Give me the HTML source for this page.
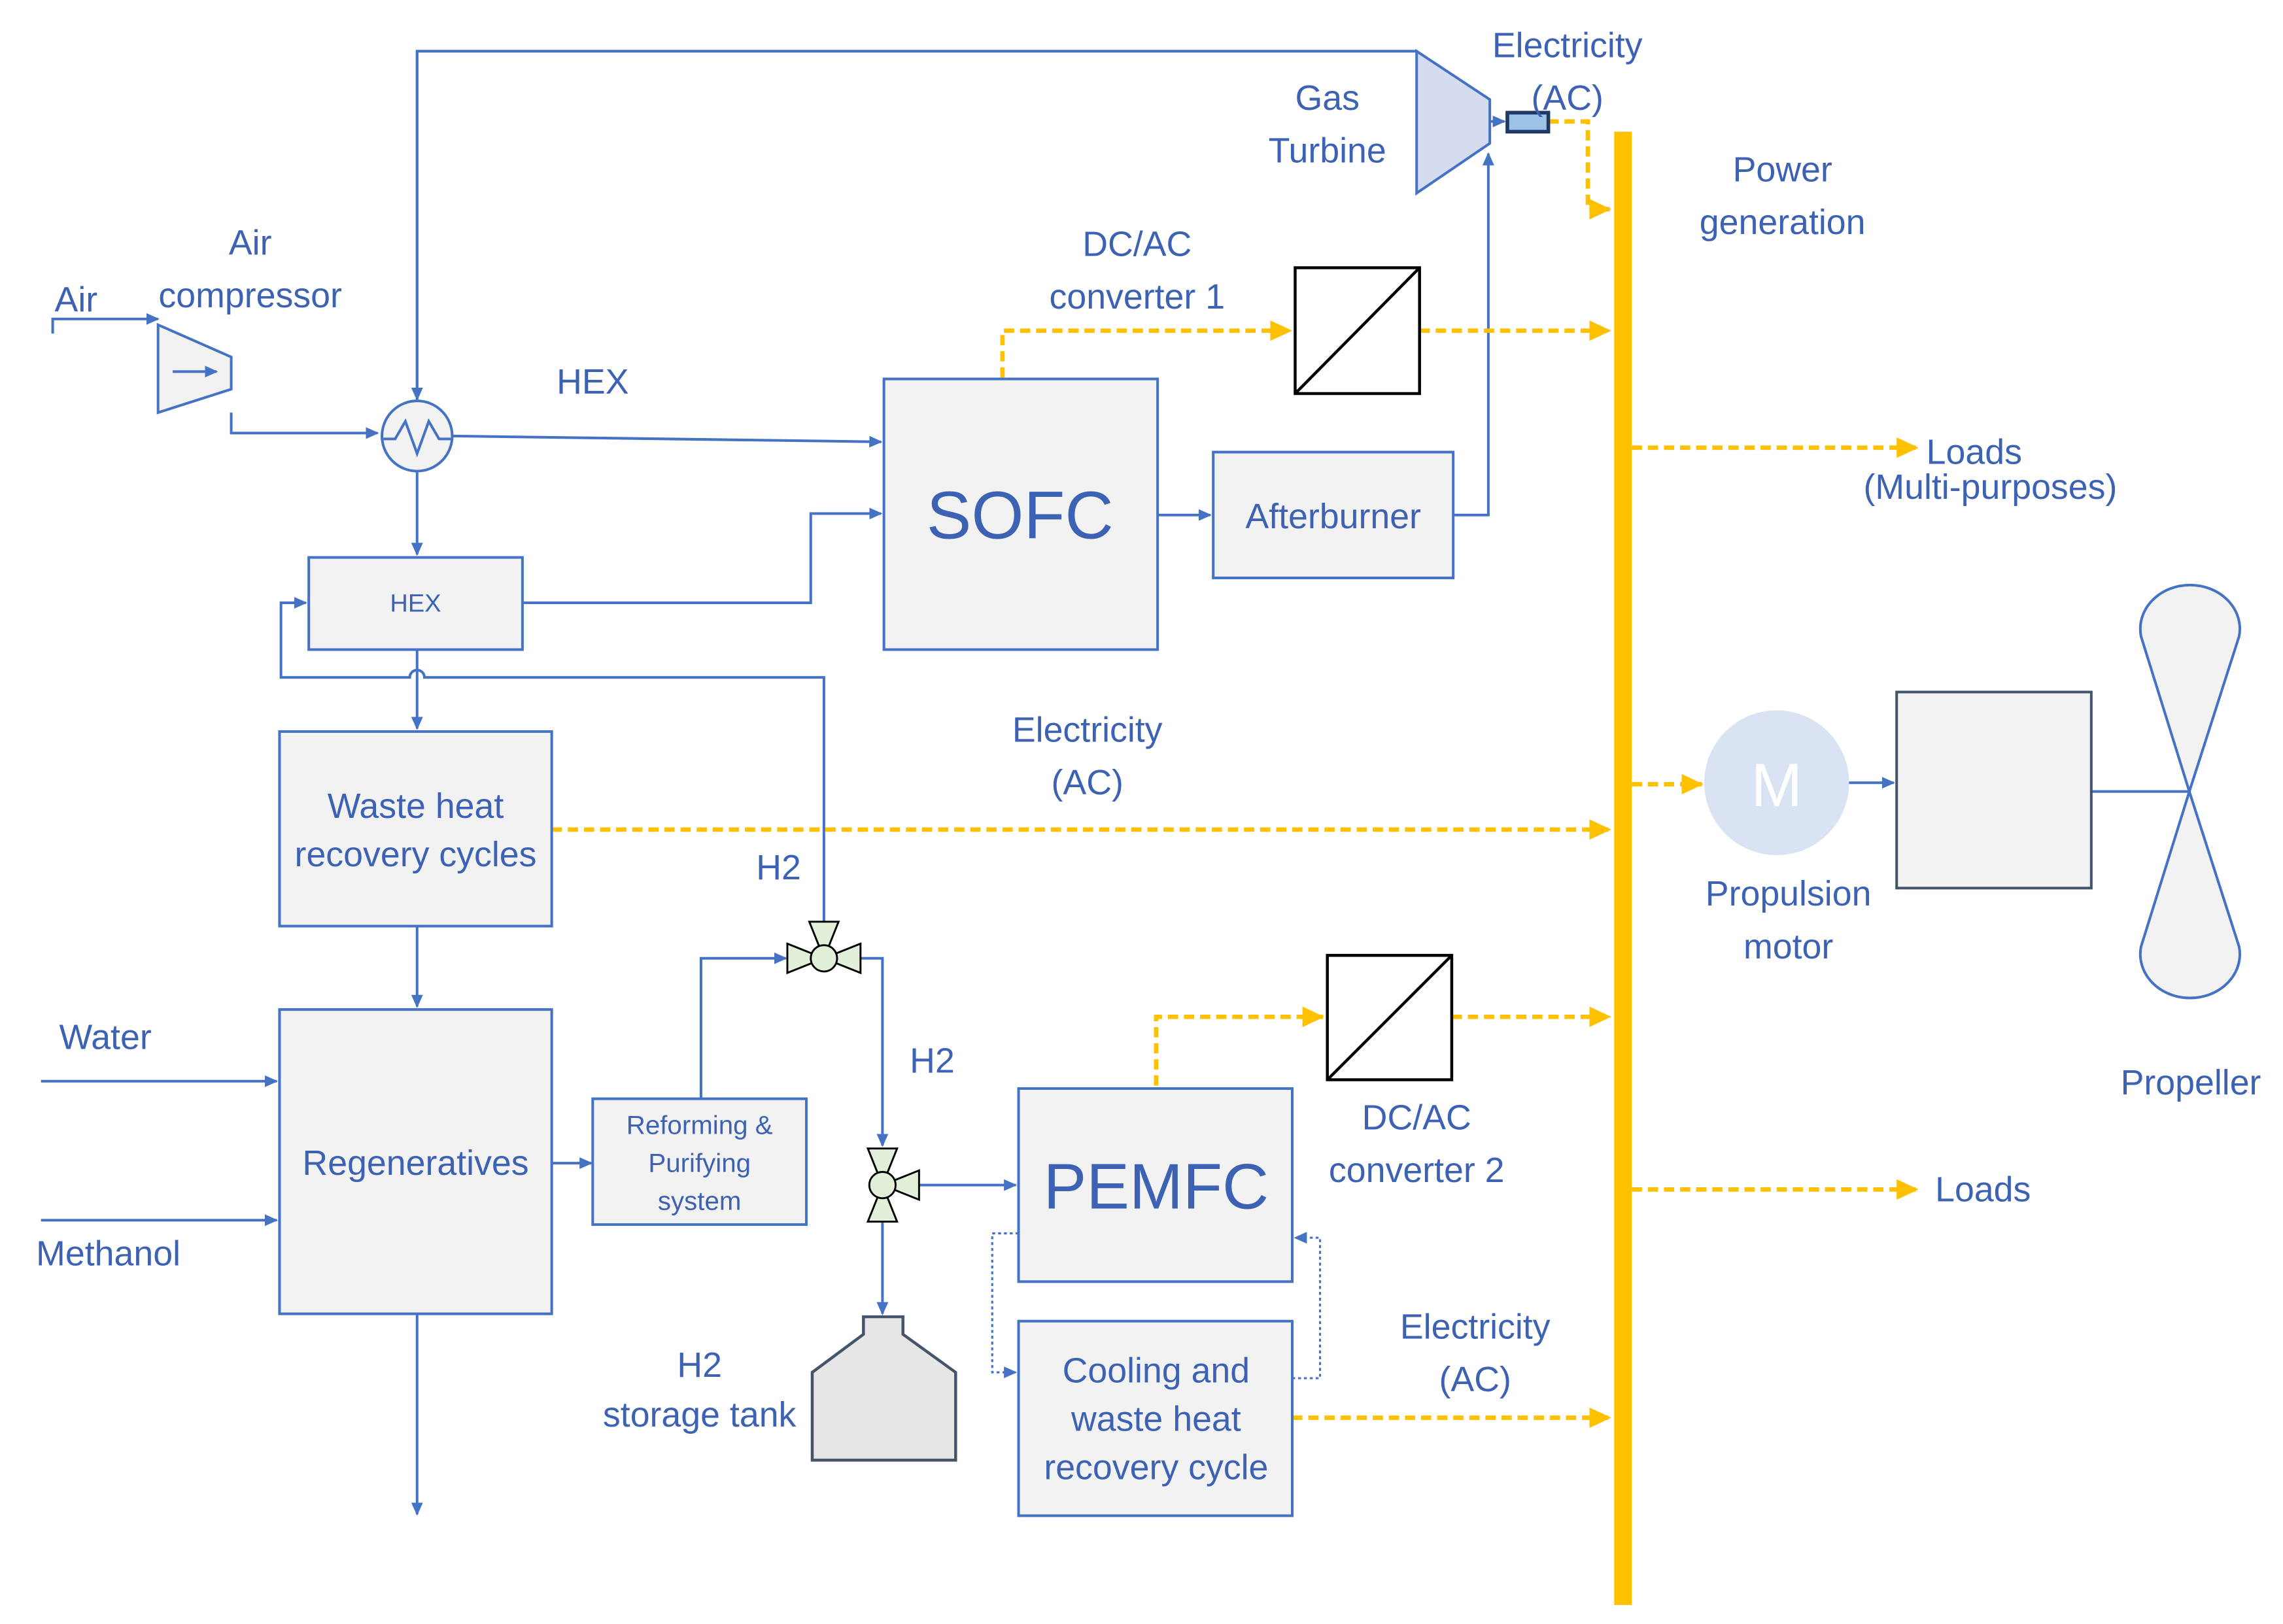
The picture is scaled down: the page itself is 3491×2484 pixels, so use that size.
<!DOCTYPE html>
<html><head><meta charset="utf-8">
<style>
html,body{margin:0;padding:0;background:#fff;}
svg{display:block;}
text{font-family:"Liberation Sans",sans-serif;fill:#3d62b3;}
</style></head>
<body>
<svg width="3491" height="2484" viewBox="0 0 1560 1110" preserveAspectRatio="none" xmlns="http://www.w3.org/2000/svg">
<defs>
<marker id="ab" markerWidth="10" markerHeight="10" refX="8" refY="4" orient="auto" markerUnits="userSpaceOnUse"><path d="M0,0 L9,4 L0,8 z" fill="#4472c4"/></marker>
<marker id="ay" markerWidth="16" markerHeight="16" refX="14" refY="7" orient="auto" markerUnits="userSpaceOnUse"><path d="M0,0 L15,7 L0,14 z" fill="#ffc000"/></marker>
</defs>
<rect width="1560" height="1110" fill="#fff"/>

<g fill="none" stroke="#4472c4" stroke-width="1.8">
<!-- top line -->
<path d="M285,273 V35 H968 L1016,80"/>
<path d="M285,35 V273" marker-end="url(#ab)"/>
<!-- air -->
<path d="M36,228 V218 H108" marker-end="url(#ab)"/>
<path d="M158,282 V296 H258" marker-end="url(#ab)"/>
<!-- hex to sofc -->
<path d="M309,298 L602,302" marker-end="url(#ab)"/>
<path d="M285,322 V379" marker-end="url(#ab)"/>
<path d="M357,412 H554 V351 H602" marker-end="url(#ab)"/>
<!-- loop -->
<path d="M563,630 V463 H290 A5,5 0 0 0 280,463 H192 V412 H209" marker-end="url(#ab)"/>
<path d="M285,444 V498" marker-end="url(#ab)"/>
<path d="M285,633 V688" marker-end="url(#ab)"/>
<path d="M285,898 V1035" marker-end="url(#ab)"/>
<path d="M28,739 H189" marker-end="url(#ab)"/>
<path d="M28,834 H189" marker-end="url(#ab)"/>
<path d="M377,795 H404" marker-end="url(#ab)"/>
<path d="M479,751 V655 H537" marker-end="url(#ab)"/>
<path d="M588,655 H603 V783" marker-end="url(#ab)"/>
<path d="M628,810 H694" marker-end="url(#ab)"/>
<path d="M603,835 V898" marker-end="url(#ab)"/>
<path d="M791,352 H827" marker-end="url(#ab)"/>
<path d="M993,352 H1017 V105" marker-end="url(#ab)"/>
<path d="M1005,83 H1028" marker-end="url(#ab)"/>
<path d="M1263,535 H1294" marker-end="url(#ab)"/>
<path d="M1429,541 H1496"/>
<path d="M696,843 H678 V938 H694" stroke-dasharray="2,2" stroke-width="1.4" marker-end="url(#ab)"/>
<path d="M883,942 H902 V846 H885" stroke-dasharray="2,2" stroke-width="1.4" marker-end="url(#ab)"/>
</g>

<!-- yellow bus -->
<rect x="1103" y="90" width="12" height="1007" fill="#ffc000"/>
<g fill="none" stroke="#ffc000" stroke-width="3" stroke-dasharray="7,4">
<path d="M1058,83 H1085 V143 H1100" marker-end="url(#ay)"/>
<path d="M685,258 V226 H882" marker-end="url(#ay)"/>
<path d="M970,226 H1100" marker-end="url(#ay)"/>
<path d="M1115,306 H1310" marker-end="url(#ay)"/>
<path d="M377,567 H1100" marker-end="url(#ay)"/>
<path d="M1115,536 H1163" marker-end="url(#ay)"/>
<path d="M790,742 V695 H904" marker-end="url(#ay)"/>
<path d="M992,695 H1100" marker-end="url(#ay)"/>
<path d="M1115,813 H1310" marker-end="url(#ay)"/>
<path d="M883,969 H1100" marker-end="url(#ay)"/>
</g>

<!-- turbine -->
<polygon points="968,35 1018,68 1018,98 968,132" fill="#d6dcf0" stroke="#4472c4" stroke-width="1.8"/>
<rect x="1030" y="77" width="28" height="13" fill="#9dc3e6" stroke="#1f3864" stroke-width="2.5"/>
<!-- compressor -->
<polygon points="108,222 158,244 158,266 108,282" fill="#f2f2f2" stroke="#4472c4" stroke-width="1.8"/>
<path d="M118,254 H148" stroke="#4472c4" stroke-width="1.8" marker-end="url(#ab)"/>
<!-- HEX circle -->
<circle cx="285" cy="298" r="24" fill="#f2f2f2" stroke="#4472c4" stroke-width="1.8"/>
<path d="M262,300 L270,300 L277,288 L285,310 L293,288 L300,300 L308,300" fill="none" stroke="#4472c4" stroke-width="1.8"/>

<!-- boxes -->
<g fill="#f2f2f2" stroke="#4472c4" stroke-width="1.8">
<rect x="604" y="259" width="187" height="185"/>
<rect x="829" y="309" width="164" height="86"/>
<rect x="211" y="381" width="146" height="63"/>
<rect x="191" y="500" width="186" height="133"/>
<rect x="191" y="690" width="186" height="208"/>
<rect x="405" y="751" width="146" height="86"/>
<rect x="696" y="744" width="187" height="132"/>
<rect x="696" y="903" width="187" height="133"/>
<rect x="1296" y="473" width="133" height="134" stroke="#44546a"/>
</g>
<!-- converters -->
<rect x="885" y="183" width="85" height="86" fill="#fff" stroke="#000" stroke-width="2"/>
<line x1="885" y1="269" x2="970" y2="183" stroke="#000" stroke-width="2"/>
<rect x="907" y="653" width="85" height="85" fill="#fff" stroke="#000" stroke-width="2"/>
<line x1="907" y1="738" x2="992" y2="653" stroke="#000" stroke-width="2"/>

<!-- valves -->
<g fill="#e2f0d9" stroke="#000" stroke-width="1.3">
<polygon points="538,645 563,655 538,665"/>
<polygon points="588,645 563,655 588,665"/>
<polygon points="553,630 573,630 563,655"/>
<circle cx="563" cy="655" r="9"/>
<polygon points="593,785 603,810 613,785"/>
<polygon points="593,835 603,810 613,835"/>
<polygon points="628,800 628,820 603,810"/>
<circle cx="603" cy="810" r="9"/>
</g>
<!-- tank -->
<polygon points="555,938 590,912 590,900 617,900 617,912 653,938 653,998 555,998" fill="#e7e6e6" stroke="#44546a" stroke-width="2"/>

<!-- motor -->
<circle cx="1214" cy="535" r="49" fill="#dae3f3" stroke="#dae3f3"/>
<text x="1214" y="551" font-size="42" text-anchor="middle" style="fill:#fff">M</text>
<!-- propeller -->
<path d="M1496,541 L1463,435 A34,30 0 1 1 1530,435 Z" fill="#f2f2f2" stroke="#4472c4" stroke-width="1.8"/>
<path d="M1496,541 L1463,647 A34,30 0 1 0 1530,647 Z" fill="#f2f2f2" stroke="#4472c4" stroke-width="1.8"/>

<!-- texts -->
<g font-size="24" text-anchor="middle">
<text x="1071" y="39">Electricity</text>
<text x="1071" y="75">(AC)</text>
<text x="907" y="75">Gas</text>
<text x="907" y="111">Turbine</text>
<text x="1218" y="124">Power</text>
<text x="1218" y="160">generation</text>
<text x="777" y="175">DC/AC</text>
<text x="777" y="211">converter 1</text>
<text x="171" y="174">Air</text>
<text x="171" y="210">compressor</text>
<text x="52" y="213">Air</text>
<text x="405" y="269">HEX</text>
<text x="1349" y="317">Loads</text>
<text x="1360" y="341">(Multi-purposes)</text>
<text x="743" y="507">Electricity</text>
<text x="743" y="543">(AC)</text>
<text x="284" y="559">Waste heat</text>
<text x="284" y="592">recovery cycles</text>
<text x="532" y="601">H2</text>
<text x="637" y="733">H2</text>
<text x="72" y="717">Water</text>
<text x="74" y="865">Methanol</text>
<text x="284" y="803">Regeneratives</text>
<text x="968" y="772">DC/AC</text>
<text x="968" y="808">converter 2</text>
<text x="1222" y="619">Propulsion</text>
<text x="1222" y="655">motor</text>
<text x="1497" y="748">Propeller</text>
<text x="1355" y="821">Loads</text>
<text x="1008" y="915">Electricity</text>
<text x="1008" y="951">(AC)</text>
<text x="478" y="941">H2</text>
<text x="478" y="975">storage tank</text>
<text x="790" y="945">Cooling and</text>
<text x="790" y="978">waste heat</text>
<text x="790" y="1011">recovery cycle</text>
<text x="911" y="361">Afterburner</text>
</g>
<text x="697" y="368" font-size="46" text-anchor="middle">SOFC</text>
<text x="790" y="826" font-size="44" text-anchor="middle">PEMFC</text>
<text x="284" y="418" font-size="17" text-anchor="middle">HEX</text>
<g font-size="18" text-anchor="middle">
<text x="478" y="775">Reforming &amp;</text>
<text x="478" y="801">Purifying</text>
<text x="478" y="827">system</text>
</g>
</svg>
</body></html>
